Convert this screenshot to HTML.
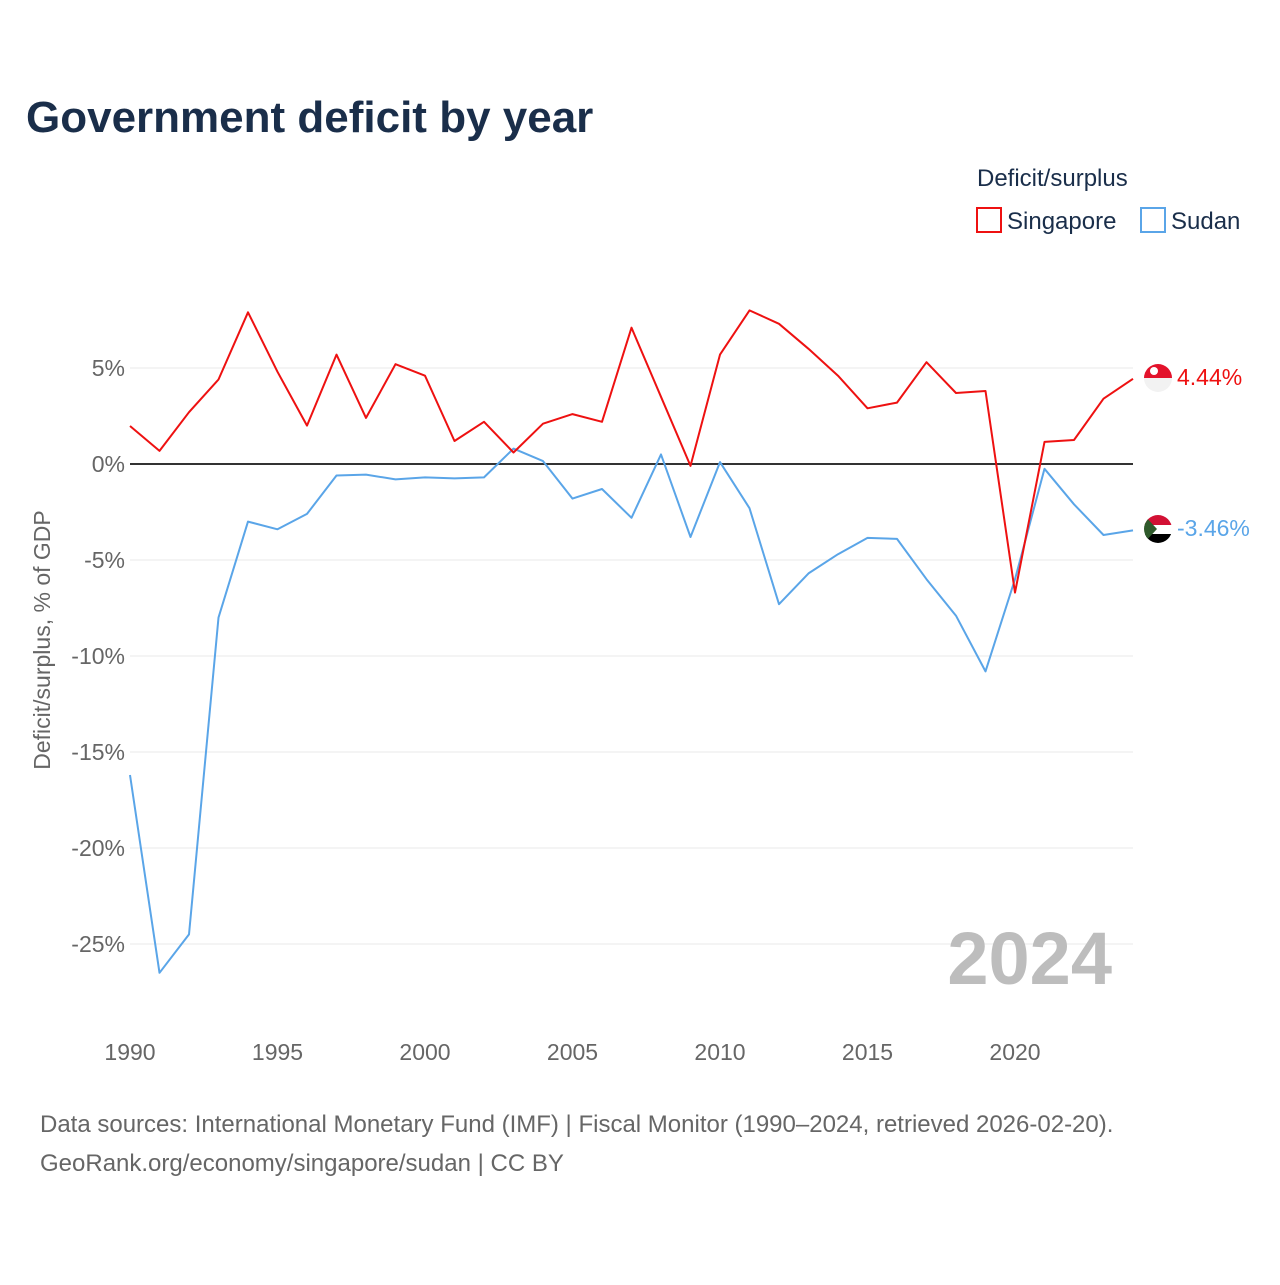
<!DOCTYPE html>
<html><head><meta charset="utf-8"><style>
body{margin:0;background:#fff;font-family:"Liberation Sans",sans-serif}
</style></head><body>
<svg width="1280" height="1280" xmlns="http://www.w3.org/2000/svg" style="font-family:'Liberation Sans',sans-serif">
<text x="26" y="132" font-size="44" font-weight="bold" fill="#1a2e4a">Government deficit by year</text>
<text x="977" y="186" font-size="24" fill="#1a2e4a">Deficit/surplus</text>
<g><rect x="977" y="208" width="24" height="24" fill="none" stroke="#ee1111" stroke-width="2"/><text x="1007" y="229" font-size="24" fill="#1a2e4a">Singapore</text></g>
<g><rect x="1141" y="208" width="24" height="24" fill="none" stroke="#5aa5e8" stroke-width="2"/><text x="1171" y="229" font-size="24" fill="#1a2e4a">Sudan</text></g>
<g id="grid"></g>
<text x="1112" y="984" font-size="74" font-weight="bold" fill="#bdbdbd" text-anchor="end">2024</text>
<g id="series"></g>
<text transform="translate(50,640) rotate(-90)" font-size="23" fill="#666" text-anchor="middle">Deficit/surplus, % of GDP</text>
<g><clipPath id="c1"><circle cx="1158" cy="378" r="14"/></clipPath><g clip-path="url(#c1)"><rect x="1144" y="364" width="28" height="14" fill="#e3122b"/><rect x="1144" y="378" width="28" height="14" fill="#f2f2f2"/><circle cx="1154" cy="371" r="4" fill="#fff"/></g></g>
<g><clipPath id="c2"><circle cx="1158" cy="529" r="14"/></clipPath><g clip-path="url(#c2)"><rect x="1144" y="515" width="28" height="10" fill="#d21034"/><rect x="1144" y="525" width="28" height="9" fill="#fff"/><rect x="1144" y="534" width="28" height="10" fill="#000"/><polygon points="1144,515 1157,529 1144,543" fill="#2f5a2b"/></g></g>
<text x="1177" y="385" font-size="23" fill="#ee1111">4.44%</text>
<text x="1177" y="536" font-size="23" fill="#5aa5e8">-3.46%</text>
<text x="40" y="1132" font-size="24" fill="#666">Data sources: International Monetary Fund (IMF) | Fiscal Monitor (1990–2024, retrieved 2026-02-20).</text>
<text x="40" y="1171" font-size="24" fill="#666">GeoRank.org/economy/singapore/sudan | CC BY</text>
</svg>
<script>
const years=[];for(let y=1990;y<=2024;y++)years.push(y);
const singapore=[1.98,0.68,2.7,4.4,7.9,4.8,2.0,5.7,2.4,5.2,4.6,1.2,2.2,0.6,2.1,2.6,2.2,7.1,3.5,-0.1,5.7,8.0,7.3,6.0,4.6,2.9,3.2,5.3,3.7,3.8,-6.7,1.15,1.25,3.4,4.44];
const sudan=[-16.2,-26.5,-24.5,-8.0,-3.0,-3.4,-2.6,-0.6,-0.55,-0.8,-0.7,-0.75,-0.7,0.8,0.15,-1.8,-1.3,-2.8,0.5,-3.8,0.1,-2.3,-7.3,-5.7,-4.7,-3.85,-3.9,-6.0,-7.9,-10.8,-6.0,-0.25,-2.1,-3.7,-3.46];
const yTicks=[5,0,-5,-10,-15,-20,-25];
const xTicks=[1990,1995,2000,2005,2010,2015,2020];
const NS="http://www.w3.org/2000/svg";
const xs=y=>130+(y-1990)*(1133-130)/34;
const ys=v=>464-v*19.2;
const grid=document.getElementById('grid'),ser=document.getElementById('series');
function mk(t,a,p){const e=document.createElementNS(NS,t);for(const k in a)e.setAttribute(k,a[k]);p.appendChild(e);return e;}
yTicks.forEach(v=>{
 const l=mk('line',{x1:130,x2:1133,y1:ys(v),y2:ys(v),stroke:v===0?'#333':'#e8e8e8','stroke-width':v===0?2:1},grid);
 
 
 const t=mk('text',{x:125,y:ys(v)+8,'font-size':23,fill:'#666','text-anchor':'end'},grid);
 t.textContent=v+'%';
 
 
});
xTicks.forEach(y=>{
 const t=mk('text',{x:xs(y),y:1060,'font-size':23,fill:'#666','text-anchor':'middle'},grid);
 t.textContent=y;
 
 
});
function line(vals,color,name){
 const d=vals.map((v,i)=>(i?'L':'M')+xs(years[i]).toFixed(1)+','+ys(v).toFixed(1)).join('');
 const p=mk('path',{d:d,fill:'none',stroke:color,'stroke-width':2,'stroke-linejoin':'round'},ser);
 
 
}
line(sudan,'#5aa5e8','sudan-line');
line(singapore,'#ee1111','singapore-line');
</script>
</body></html>
